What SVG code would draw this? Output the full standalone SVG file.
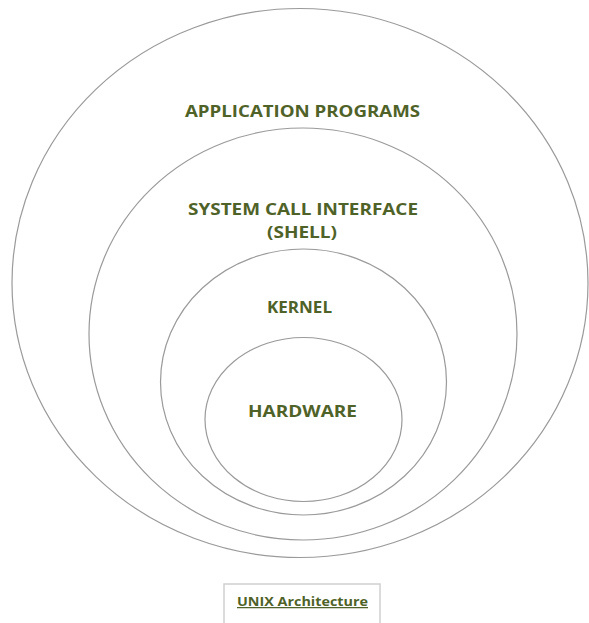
<svg xmlns="http://www.w3.org/2000/svg" width="589" height="623" viewBox="0 0 589 623">
<style>
.ring{fill:none;stroke:#9a9a9a;stroke-width:1.2}
.lbl{font-family:"Open Sans","Liberation Sans",sans-serif;font-weight:bold;font-size:16px;fill:#4f6228;text-anchor:middle}
.cap{font-family:"Open Sans","Liberation Sans",sans-serif;font-weight:bold;font-size:12.5px;fill:#4f6228;text-anchor:middle;text-decoration:underline}
</style>
<rect width="589" height="623" fill="#ffffff"/>
<g id="application-programs">
<ellipse class="ring" cx="300" cy="283" rx="288" ry="274.5"/>
<text class="lbl" x="302.5" y="117" textLength="235" lengthAdjust="spacingAndGlyphs">APPLICATION PROGRAMS</text>
</g>
<g id="system-call-interface">
<ellipse class="ring" cx="303" cy="334" rx="214" ry="206"/>
<text class="lbl" x="303" y="215" textLength="230" lengthAdjust="spacingAndGlyphs">SYSTEM CALL INTERFACE</text>
<text class="lbl" x="302" y="238" textLength="70" lengthAdjust="spacingAndGlyphs">(SHELL)</text>
</g>
<g id="kernel">
<ellipse class="ring" cx="303.5" cy="382" rx="143" ry="133"/>
<text class="lbl" x="299.5" y="313" textLength="65" lengthAdjust="spacingAndGlyphs">KERNEL</text>
</g>
<g id="hardware">
<ellipse class="ring" cx="303.5" cy="419.5" rx="98.5" ry="82"/>
<text class="lbl" x="302.5" y="417" textLength="109" lengthAdjust="spacingAndGlyphs">HARDWARE</text>
</g>
<g id="caption">
<rect x="224" y="584" width="156" height="45" fill="none" stroke="#d0d0d0" stroke-width="1.5"/>
<text class="cap" x="302.5" y="606" textLength="131" lengthAdjust="spacingAndGlyphs">UNIX Architecture</text>
</g>
<g id="connectors"/>
</svg>
